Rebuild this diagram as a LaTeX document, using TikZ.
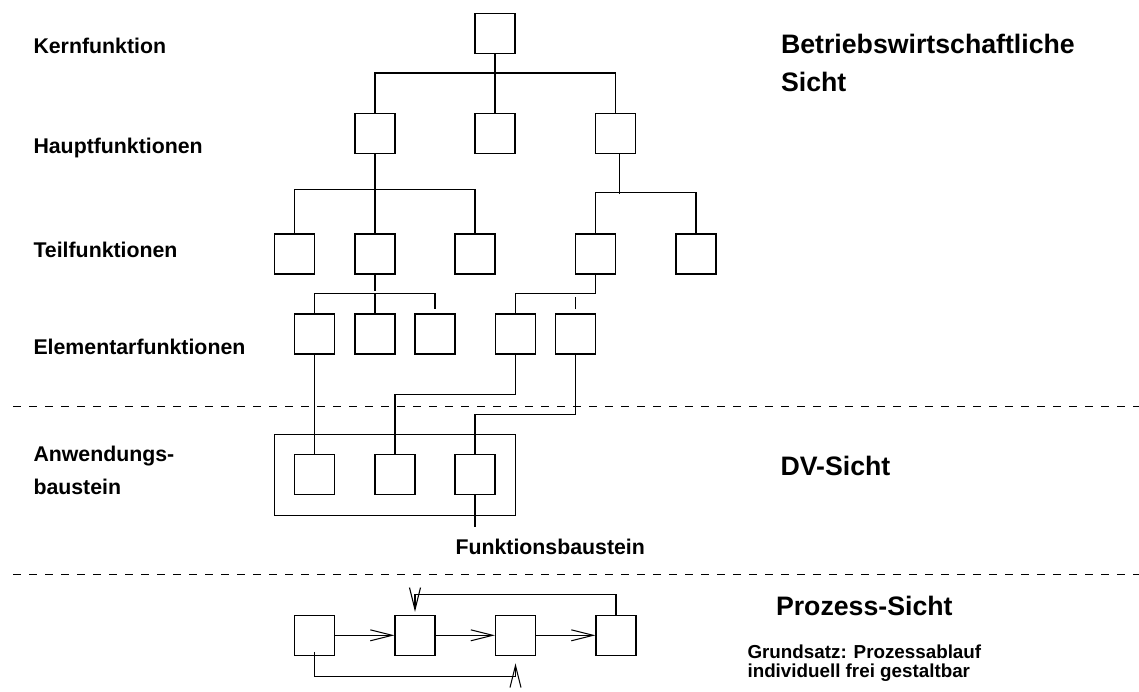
\documentclass[tikz,border=0pt]{standalone}
\usepackage{fontspec}
\setmainfont{Liberation Sans}
\usetikzlibrary{arrows.meta}

\begin{document}
\begin{tikzpicture}[x=1pt,y=-1pt,
  line width=1.05pt,
  fbox/.style={draw,minimum size=40pt,inner sep=0pt},
  lbl/.style={anchor=base west,inner sep=0pt,font=\bfseries\fontsize{21.3}{25}\selectfont},
  head/.style={anchor=base west,inner sep=0pt,font=\bfseries\fontsize{26.7}{30}\selectfont},
  note/.style={anchor=base west,inner sep=0pt,font=\bfseries\fontsize{18.8}{20}\selectfont},
  sep/.style={line width=1pt,dash pattern=on 8pt off 8pt},
  arr/.style={-{Straight Barb[length=22pt,width=11pt]}}]

\useasboundingbox[fill=white] (0,0) rectangle (1139,691);

% --- left-hand level labels
\node[lbl] (lk) at (33,53.3) {Kernfunktion};
\node[lbl] (lh) at (33,153.3) {Hauptfunktionen};
\node[lbl] (lt) at (33,257.5) {Teilfunktionen};
\node[lbl] (le) at (33,354.5) {Elementarfunktionen};
\node[lbl] (la1) at (33,461.5) {Anwendungs-};
\node[lbl] (la2) at (33,494.5) {baustein};

% --- right-hand view headings
\node[head] (hb1) at (780.5,53.3) {Betriebswirtschaftliche};
\node[head] (hb2) at (780.5,91.7) {Sicht};
\node[head] (hd) at (780,475) {DV-Sicht};
\node[head] (hp) at (775.5,615) {Prozess-Sicht};
\node[note] (g1) at (747,658.3) {Grundsatz: Prozessablauf};
\node[note] (g2) at (747,677.5) {individuell frei gestaltbar};

% --- function tree
\node[fbox] (K) at (495,33.3) {};
\node[fbox] (H1) at (375,133.5) {};
\node[fbox] (H2) at (495,133.5) {};
\node[fbox] (H3) at (615.7,133.5) {};
\node[fbox] (T1) at (294.3,254) {};
\node[fbox] (T2) at (375,254) {};
\node[fbox] (T3) at (475,254) {};
\node[fbox] (T4) at (595.5,254) {};
\node[fbox] (T5) at (696,254) {};
\node[fbox] (E1) at (314.5,334) {};
\node[fbox] (E2) at (375,334) {};
\node[fbox] (E3) at (435,334) {};
\node[fbox] (E4) at (515.3,334) {};
\node[fbox] (E5) at (575.5,334) {};

\draw (H1.north) -- ++(0,-40) -| (H3.north);
\draw (K.south) -- (H2.north);

\draw (T1.north) -- ++(0,-44) -| (T3.north);
\draw (H1.south) -- (T2.north);
\draw (T4.north) -- ++(0,-40.7) -| (T5.north);
\draw ([xshift=4pt]H3.south) -- ++(0,39.8);

\draw (T2.south) -- ++(0,16);
\draw (E1.north) -- ++(0,-20) -| ([yshift=4pt]E3.north);
\draw (E2.north) -- ++(0,-20);
\draw (E4.north) -- ++(0,-20) -| (T4.south);
\draw ([yshift=4pt]E5.north) -- ++(0,-12);

% --- application module with its function modules
\node[draw,minimum width=241.3pt,minimum height=80.7pt,inner sep=0pt] (AB) at (394.7,474.7) {};
\node[fbox] (A1) at (314.5,474.5) {};
\node[fbox] (A2) at (395,474.5) {};
\node[fbox] (A3) at (475,474.5) {};

\draw (E1.south) -- (A1.north);
\draw (E4.south) -- ++(0,40.3) -| (A2.north);
\draw (E5.south) -- ++(0,60.3) -| (A3.north);
\draw (A3.south) -- ++(0,31.7) coordinate (fbend);
\node[lbl] (fb) at (455,554.3) {Funktionsbaustein};

% --- separators between the views
\draw[sep] (13,406.5) -- (1139,406.5);
\draw[sep] (13,574.5) -- (1139,574.5);

% --- process flow
\node[fbox] (P1) at (314.3,635.3) {};
\node[fbox] (P2) at (415,635.3) {};
\node[fbox] (P3) at (515.5,635.3) {};
\node[fbox] (P4) at (616,635.3) {};

\draw[arr] (P1) -- (P2);
\draw[arr] (P2) -- (P3);
\draw[arr] (P3) -- (P4);
\draw[arr] (P4.north) -- ++(0,-20) -| ([yshift=3pt]P2.north);
\draw[arr] ([yshift=4pt]P1.south) -- ++(0,24.3) -| ([yshift=-7.5pt]P3.south);

\end{tikzpicture}
\end{document}
